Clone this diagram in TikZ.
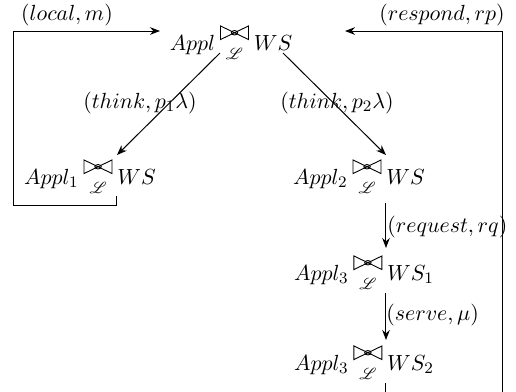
\documentclass[tikz,border=0pt]{standalone}
\usepackage{amsmath}
\usepackage{mathrsfs}
\usetikzlibrary{arrows.meta,calc}
\newcommand{\bowsym}{\tikz[x=1pt,y=1pt,line width=0.45pt]{\draw (0,0)--(0,6.8)--(14,0)--(14,6.8)--cycle; \draw (7,3.4) ellipse (1.6pt and 1.1pt);}}
\newcommand{\coop}{\mathbin{\lower4.6pt\vbox{\offinterlineskip\halign{\hfil##\hfil\cr\bowsym\cr\noalign{\kern4.0pt}$\scriptstyle\mathscr{L}$\cr}}}}
\tikzset{
  st/.style={anchor=base,inner sep=0pt,font=\fontsize{11}{13}\selectfont},
  lbl/.style={inner sep=0pt,font=\fontsize{11}{13}\selectfont},
  arr/.style={line width=0.5pt,-{Stealth[length=5pt,width=3.8pt]}},
  ln/.style={line width=0.5pt}
}
\begin{document}
\begin{tikzpicture}[x=0.5pt,y=-0.5pt]
\useasboundingbox (0,0) rectangle (516,392);
\node[st] (top) at (231,50) {$Appl\coop WS$};
\node[st] (n1) at (90,184) {$Appl_1\coop WS$};
\node[st] (n2) at (359,184) {$Appl_2\coop WS$};
\node[st] (n3) at (364,280) {$Appl_3\coop WS_1$};
\node[st] (n4) at (364,370) {$Appl_3\coop WS_2$};
\coordinate (cl) at (14,205);
\coordinate (cr) at (503,410);
\draw[arr] ([shift={(-11,3)}]top.base) -- ([shift={(27,-29)}]n1.base);
\draw[arr] ([shift={(52,3)}]top.base) -- ([shift={(27,-29)}]n2.base);
\draw[arr] ([shift={(27,19)}]n2.base) -- ([shift={(22,-32)}]n3.base);
\draw[arr] ([shift={(22,13)}]n3.base) -- ([shift={(22,-30)}]n4.base);
\draw[arr] ([shift={(27,12)}]n1.base) |- (cl) |- ([shift={(-71,-19)}]top.base);
\draw[arr] ([shift={(22,13)}]n4.base) |- (cr) |- ([shift={(114,-19)}]top.base);
\node[lbl] (llocal) at (67,15) {$(local,m)$};
\node[lbl] (lresp) at (442,15) {$(respond,rp)$};
\node[lbl] (lt1) at (140,103) {$(think,p_1\lambda)$};
\node[lbl] (lt2) at (337,103) {$(think,p_2\lambda)$};
\node[lbl,anchor=west] (lreq) at (387,227) {$(request,rq)$};
\node[lbl,anchor=west] (lserve) at (386,315) {$(serve,\mu)$};
\end{tikzpicture}
\end{document}
